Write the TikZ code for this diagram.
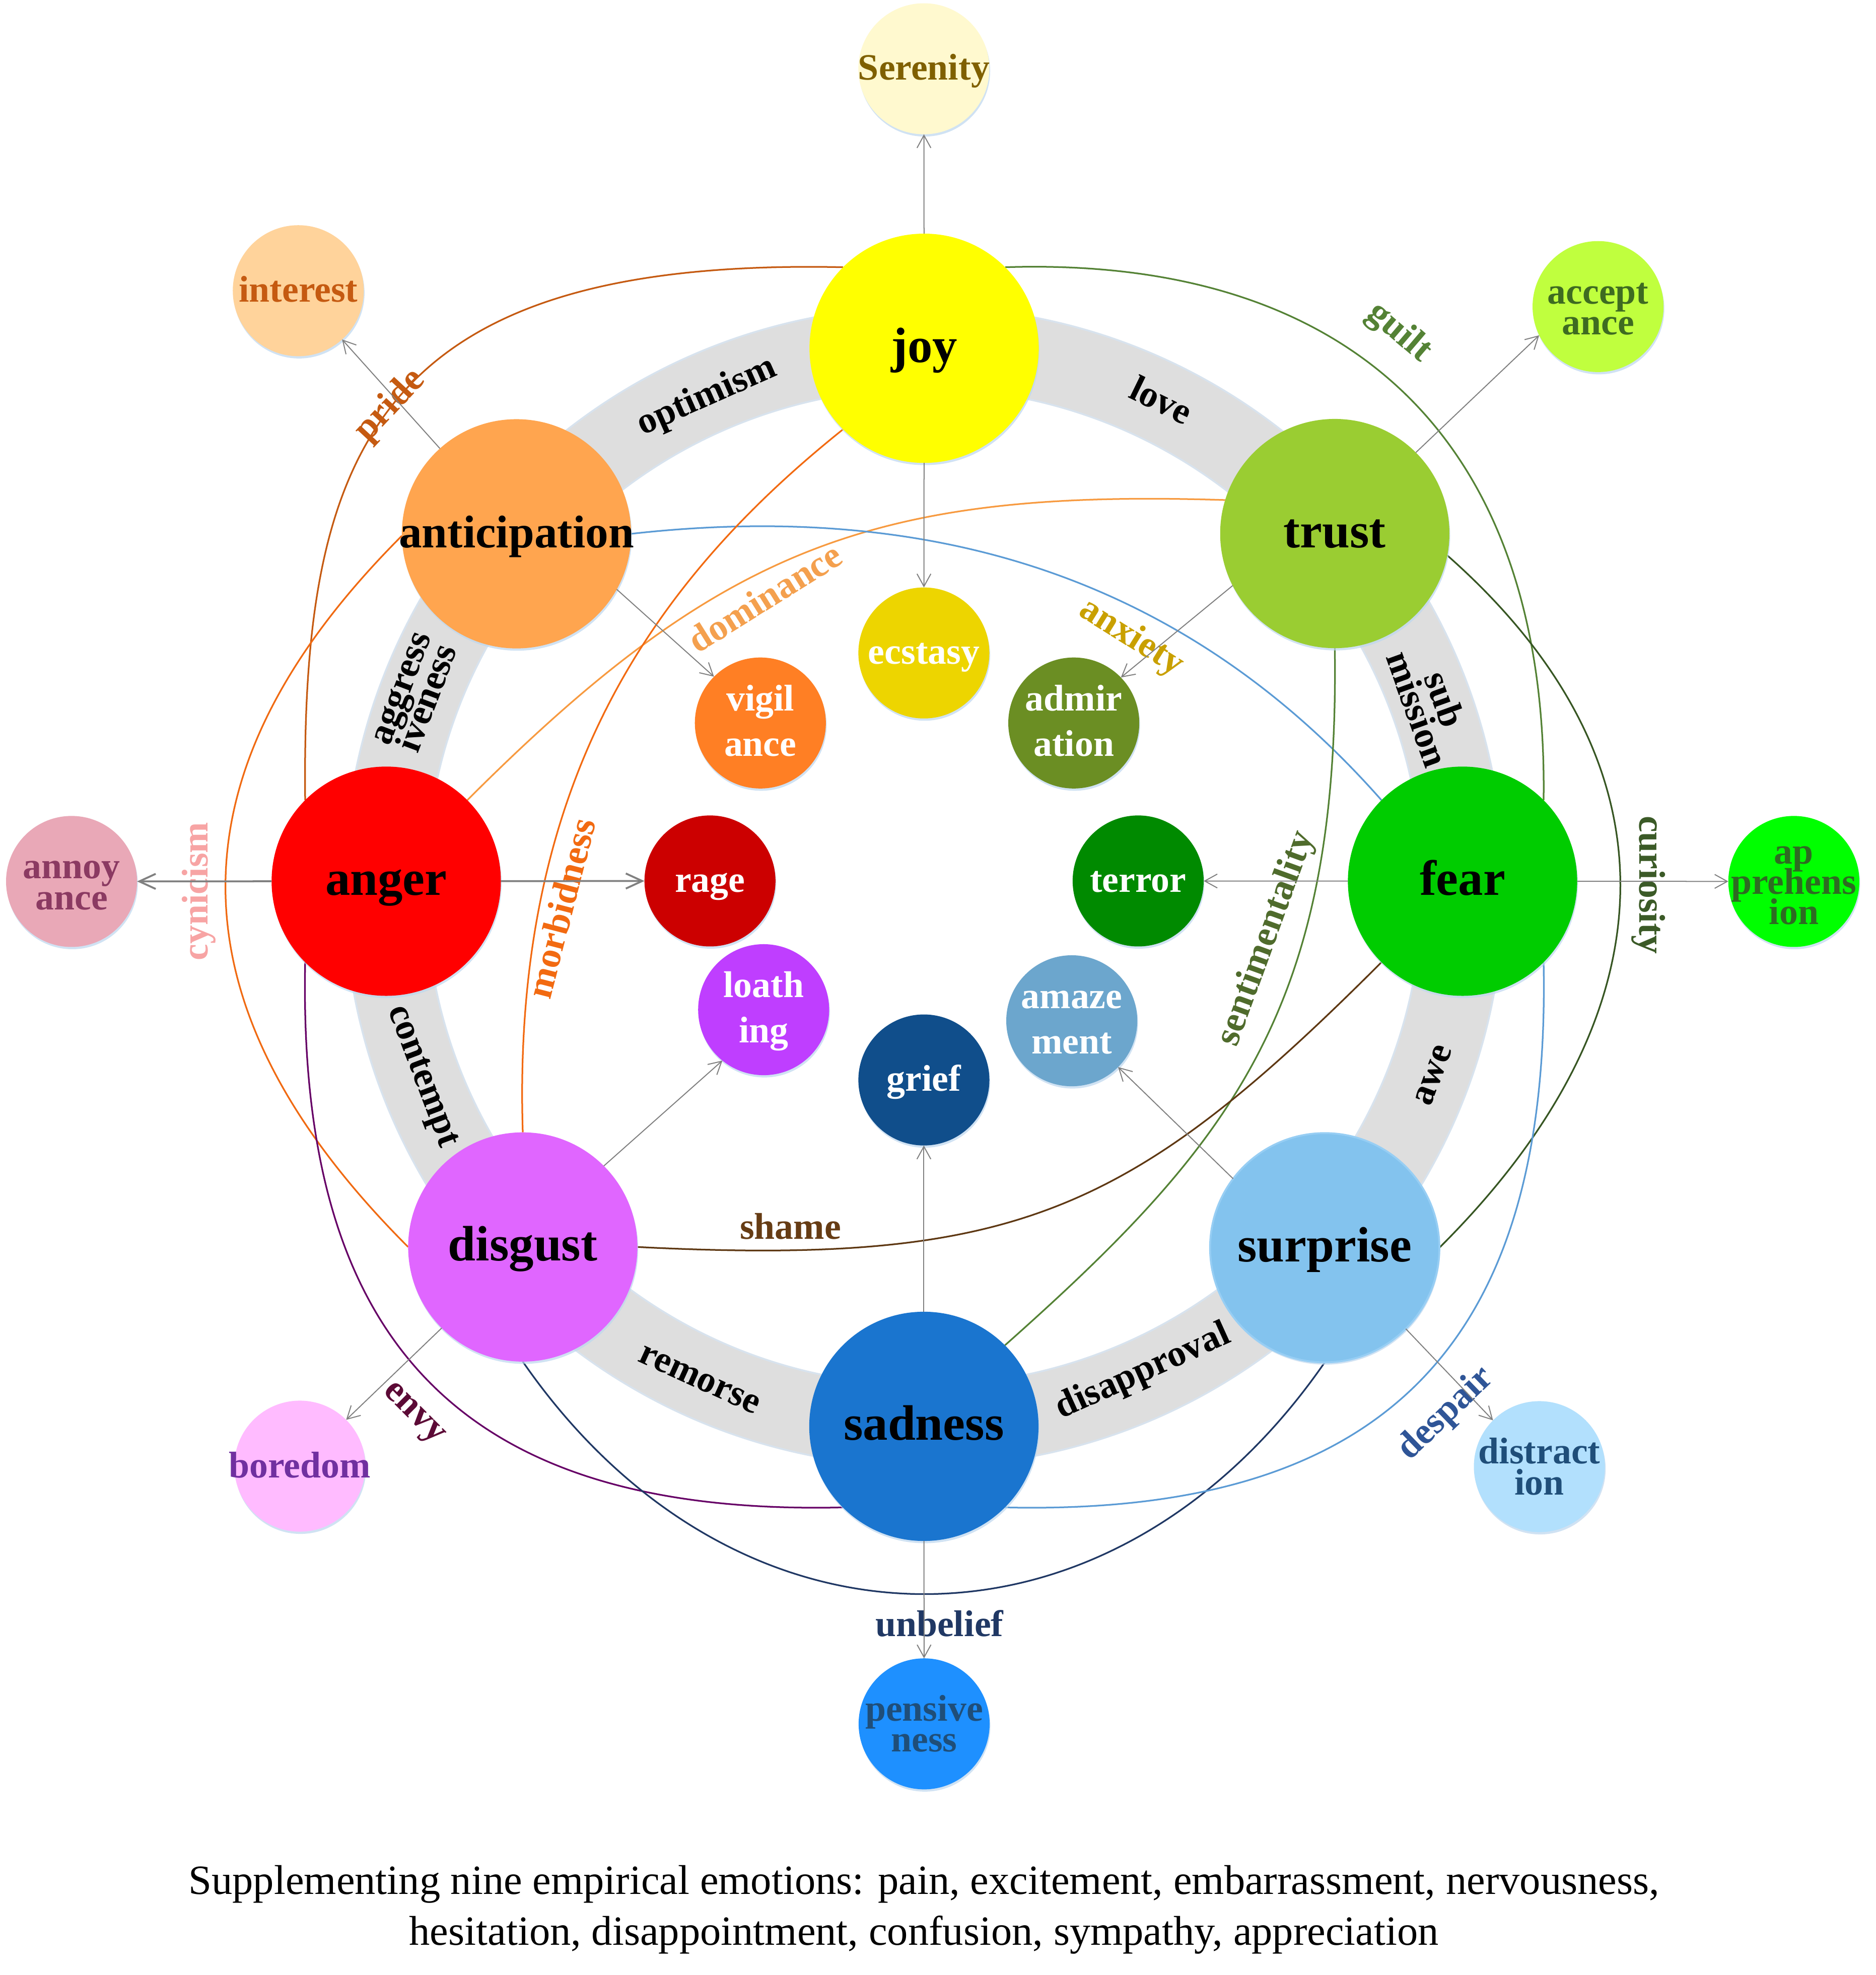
\documentclass[tikz,border=0pt]{standalone}
\usepackage{fontspec}
\setmainfont{Liberation Serif}
\usetikzlibrary{arrows.meta,shadows}
\pgfdeclarelayer{bg}
\pgfsetlayers{bg,main}

\newcommand\MT[1]{\hbox to 0pt{\hss\vrule height 30.5pt depth 8.5pt width 0pt\relax #1\hss}}
\newcommand\ST[1]{\hbox to 0pt{\hss\vrule height 24pt depth 6pt width 0pt\relax #1\hss}}
\newcommand\OL[1]{\hbox to 0pt{\hss\vrule height 25pt depth 5pt width 0pt\relax #1\hss}}
\newcommand\IL[1]{\hbox to 0pt{\hss\vrule height 23pt depth 6.5pt width 0pt\relax #1\hss}}
\newcommand\BL[1]{\hbox to 0pt{\hss\vrule height 22pt depth 6pt width 0pt\relax #1\hss}}
\newcommand\CL[1]{\hbox to 0pt{\hss\vrule height 24pt depth 8pt width 0pt\relax #1\hss}}
\newcommand\VB[2]{\vbox{\baselineskip=#1\lineskiplimit=-1000pt\lineskip=0pt #2}}

% main circles
\definecolor{joyc}{HTML}{FFFF00}
\definecolor{trustc}{HTML}{9ACD32}
\definecolor{fearc}{HTML}{00CC00}
\definecolor{surprisec}{HTML}{83C3EE}
\definecolor{surpriseedge}{HTML}{97CEF4}
\definecolor{sadnessc}{HTML}{1A75CF}
\definecolor{disgustc}{HTML}{E066FF}
\definecolor{angerc}{HTML}{FF0000}
\definecolor{anticc}{HTML}{FFA54F}
% inner circles
\definecolor{ecstasyc}{HTML}{EDD500}
\definecolor{vigilc}{HTML}{FF7F24}
\definecolor{admirc}{HTML}{6B8E23}
\definecolor{ragec}{HTML}{CC0000}
\definecolor{terrorc}{HTML}{008A00}
\definecolor{loathc}{HTML}{BF3EFF}
\definecolor{amazec}{HTML}{6CA6CD}
\definecolor{griefc}{HTML}{104E8B}
% outer circles
\definecolor{serenc}{HTML}{FFF9CF}
\definecolor{serent}{HTML}{7F6000}
\definecolor{interc}{HTML}{FFD39B}
\definecolor{intert}{HTML}{C55A11}
\definecolor{acceptc}{HTML}{C0FF3E}
\definecolor{acceptt}{HTML}{3E6B21}
\definecolor{annoyc}{HTML}{E9A8B7}
\definecolor{annoyt}{HTML}{8B3A62}
\definecolor{apprc}{HTML}{00FF00}
\definecolor{apprt}{HTML}{2E6B22}
\definecolor{boredc}{HTML}{FFBBFF}
\definecolor{boredt}{HTML}{7030A0}
\definecolor{distrc}{HTML}{B2E0FD}
\definecolor{distrt}{HTML}{1F4E79}
\definecolor{pensc}{HTML}{1E90FF}
\definecolor{penst}{HTML}{1F4E79}
% links
\definecolor{cpride}{HTML}{C55A11}
\definecolor{cguilt}{HTML}{548235}
\definecolor{cdom}{HTML}{F79A40}
\definecolor{ldom}{HTML}{F4A04E}
\definecolor{canx}{HTML}{5B9BD5}
\definecolor{lanx}{HTML}{C9A000}
\definecolor{cmorb}{HTML}{F26A11}
\definecolor{ccyn}{HTML}{F06A12}
\definecolor{lcyn}{HTML}{F7A4A4}
\definecolor{csent}{HTML}{548235}
\definecolor{lsent}{HTML}{4F6B2C}
\definecolor{ccur}{HTML}{375623}
\definecolor{lcur}{HTML}{3B5A27}
\definecolor{cshame}{HTML}{5E3813}
\definecolor{lshame}{HTML}{663C14}
\definecolor{cenvy}{HTML}{660066}
\definecolor{lenvy}{HTML}{5C0A36}
\definecolor{cunb}{HTML}{203864}
\definecolor{cdesp}{HTML}{5B9BD5}
\definecolor{ldesp}{HTML}{2F5597}
\definecolor{arrowgray}{HTML}{808080}
\definecolor{bandgray}{HTML}{DEDEDE}
\definecolor{bandedge}{HTML}{D8E3EE}
\definecolor{shadowblue}{HTML}{BDD7EE}

\begin{document}
\begin{tikzpicture}[x=1pt,y=-1pt,
  every node/.style={inner sep=0pt, outer sep=0pt},
  shd/.style={drop shadow={shadow xshift=0.6pt, shadow yshift=-1.8pt, fill=shadowblue, opacity=0.7}},
  bigc/.style={circle, minimum size=182pt, shd, font=\fontsize{39.5}{40}\selectfont\bfseries},
  smc/.style={circle, minimum size=104pt, shd, font=\fontsize{29.5}{30}\selectfont\bfseries},
  lab/.style={font=\fontsize{29.5}{30}\selectfont\bfseries},
  arr/.style={draw=arrowgray, line width=0.8pt, -{Straight Barb[length=10pt,width=11pt]}},
  arrthick/.style={draw=arrowgray, line width=1.5pt, -{Straight Barb[length=13pt,width=12pt]}},
  link/.style={line width=1.3pt}
]
\useasboundingbox (0,0) rectangle (1489,1568);

% ---------- main emotions ----------
\node[bigc, fill=joyc] (joy) at (733.6,276.5) {\MT{joy}};
\node[bigc, fill=trustc] (trust) at (1059.6,423.6) {\MT{trust}};
\node[bigc, fill=fearc] (fear) at (1161,699.6) {\MT{fear}};
\node[bigc, fill=surprisec, draw=surpriseedge, line width=1.5pt] (surprise) at (1051.6,990.6) {\MT{surprise}};
\node[bigc, fill=sadnessc] (sadness) at (733.4,1132.4) {\MT{sadness}};
\node[bigc, fill=disgustc] (disgust) at (415,990) {\MT{disgust}};
\node[bigc, fill=angerc] (anger) at (306.6,699.6) {\MT{anger}};
\node[bigc, fill=anticc, font=\fontsize{36.5}{37}\selectfont\bfseries] (anticipation) at (410,423.8) {\MT{anticipation}};

% ---------- inner emotions ----------
\node[smc, fill=ecstasyc, text=white] (ecstasy) at (733.4,518.4) {\ST{ecstasy}};
\node[smc, fill=vigilc, text=white] (vigilance) at (603.6,574) {\VB{36pt}{\IL{vigil}\IL{ance}}};
\node[smc, fill=admirc, text=white] (admiration) at (852.4,574) {\VB{36pt}{\IL{admir}\IL{ation}}};
\node[smc, fill=ragec, text=white] (rage) at (563.6,699.4) {\ST{rage}};
\node[smc, fill=terrorc, text=white] (terror) at (903.5,699.4) {\ST{terror}};
\node[smc, fill=loathc, text=white] (loathing) at (606.2,801.6) {\VB{36pt}{\IL{loath}\IL{ing}}};
\node[smc, fill=amazec, text=white] (amazement) at (850.8,810.4) {\VB{36pt}{\IL{amaze}\IL{ment}}};
\node[smc, fill=griefc, text=white] (grief) at (733.4,857.4) {\ST{grief}};

% ---------- outer emotions ----------
\node[smc, fill=serenc, text=serent] (serenity) at (733.4,54.6) {\ST{Serenity}};
\node[smc, fill=interc, text=intert] (interest) at (236.8,230.8) {\ST{interest}};
\node[smc, fill=acceptc, text=acceptt] (acceptance) at (1268.6,243.4) {\VB{24.5pt}{\OL{accept}\OL{ance}}};
\node[smc, fill=annoyc, text=annoyt] (annoyance) at (56.8,699.8) {\VB{24.5pt}{\OL{annoy}\OL{ance}}};
\node[smc, fill=apprc, text=apprt] (apprehension) at (1424,699.8) {\VB{24pt}{\OL{ap}\OL{prehens}\OL{ion}}};
\node[smc, fill=boredc, text=boredt] (boredom) at (238,1164) {\ST{boredom}};
\node[smc, fill=distrc, text=distrt] (distraction) at (1222,1164.4) {\VB{24.5pt}{\OL{distract}\OL{ion}}};
\node[smc, fill=pensc, text=penst] (pensiveness) at (733.6,1368.6) {\VB{24.5pt}{\OL{pensive}\OL{ness}}};

% ---------- background: band, band labels, links ----------
\begin{pgfonlayer}{bg}
\fill[white] (0,0) rectangle (1489,1568);
\draw[line width=66pt, bandedge] (733.5,704) circle[radius=428];
\draw[line width=63pt, bandgray] (733.5,704) circle[radius=428];

\node[lab, rotate=23.9] (t-optimism) at (561,314.5) {\BL{optimism}};
\node[lab, rotate=-26] (t-love) at (921.1,319.3) {\BL{love}};
\node[lab, rotate=-70.2] (t-submission) at (1134.3,559.7) {\VB{23pt}{\BL{sub}\BL{mission}}};
\node[lab, rotate=69.7] (t-awe) at (1136.8,853.2) {\BL{awe}};
\node[lab, rotate=24.3] (t-disapproval) at (907.2,1088.6) {\BL{disapproval}};
\node[lab, rotate=-24.5] (t-remorse) at (555.6,1094.4) {\BL{remorse}};
\node[lab, rotate=-69.3] (t-contempt) at (336.4,854.1) {\BL{contempt}};
\node[lab, rotate=69.2] (t-aggressiveness) at (329.1,550.4) {\VB{23pt}{\BL{aggress}\BL{iveness}}};

\draw[link, cpride] (joy.135) .. controls +(-369,-8) and +(-3,-280) .. (anger.135);
\draw[link, cguilt] (joy.45) .. controls +(280,-9) and +(4,-280) .. (fear.45);
\draw[link, cdom] (anger.45) .. controls +(200,-200) and +(-280,-9) .. (trust.163);
\draw[link, canx] (anticipation.east) .. controls +(250,-28) and +(-150,-170) .. (fear.135);
\draw[link, cmorb] (joy.225) .. controls +(-150,120) and +(-9,-279) .. (disgust.north);
\draw[link, ccyn] (anticipation.181) .. controls +(-190,190) and +(-190,-190) .. (disgust.west);
\draw[link, csent] (trust.south) .. controls +(4,286) and +(180,-160) .. (sadness.45);
\draw[link, ccur] (trust.-11) .. controls +(197,174) and +(177,-176) .. (surprise.east);
\draw[link, cshame] (fear.225) .. controls +(-200,200) and +(300,15) .. (disgust.east);
\draw[link, cenvy] (anger.225) .. controls +(-6,300) and +(-305,7) .. (sadness.225);
\draw[link, cunb] (disgust.south) .. controls +(170,245.7) and +(-170,245.7) .. (surprise.south);
\draw[link, cdesp] (fear.-45) .. controls +(6,300) and +(305,7) .. (sadness.-45);
\end{pgfonlayer}

% ---------- link labels ----------
\node[lab, text=cpride, rotate=47] (t-pride) at (309.4,321.6) {\BL{pride}};
\node[lab, text=cguilt, rotate=-40.5] (t-guilt) at (1110.9,263.6) {\BL{guilt}};
\node[lab, text=ldom, rotate=32] (t-dominance) at (608,476) {\BL{dominance}};
\node[lab, text=lanx, rotate=-32] (t-anxiety) at (898.4,505.8) {\BL{anxiety}};
\node[lab, text=cmorb, rotate=75.5] (t-morbidness) at (447.2,721.5) {\BL{morbidness}};
\node[lab, text=lcyn, rotate=90] (t-cynicism) at (157,707.6) {\BL{cynicism}};
\node[lab, text=lsent, rotate=70] (t-sentimentality) at (1005,745) {\BL{sentimentality}};
\node[lab, text=lcur, rotate=-90] (t-curiosity) at (1309.4,702.6) {\BL{curiosity}};
\node[lab, text=lshame] (t-shame) at (627.5,975.6) {\BL{shame}};
\node[lab, text=lenvy, rotate=-45] (t-envy) at (330,1120.4) {\BL{envy}};
\node[lab, text=cunb] (t-unbelief) at (745.7,1291) {\BL{unbelief}};
\node[lab, text=ldesp, rotate=44] (t-despair) at (1147.5,1122) {\BL{despair}};

% ---------- arrows ----------
\draw[arr] (joy) -- (serenity);
\draw[arr] (joy) -- (ecstasy);
\draw[arr] (anticipation) -- (interest);
\draw[arr] (anticipation.-29) -- (vigilance.135);
\draw[arr] (trust.45) -- (acceptance.206);
\draw[arr] (trust.207) -- (admiration.44);
\draw[arr] (fear) -- (apprehension);
\draw[arr] (fear) -- (terror);
\draw[arrthick] (anger) -- (annoyance);
\draw[arrthick] (anger) -- (rage);
\draw[arr] (disgust.45) -- (loathing.231);
\draw[arr] (disgust.225) -- (boredom.45);
\draw[arr] (surprise.143) -- (amazement.315);
\draw[arr] (surprise.315) -- (distraction.135);
\draw[arr] (sadness) -- (grief);
\draw[arr] (sadness) -- (pensiveness);

% ---------- caption ----------
\node (caption) at (733.5,1516) {\fontsize{33}{40}\selectfont\VB{40pt}{\CL{Supplementing nine empirical emotions: pain, excitement, embarrassment, nervousness,}\CL{hesitation, disappointment, confusion, sympathy, appreciation}}};
\end{tikzpicture}
\end{document}
